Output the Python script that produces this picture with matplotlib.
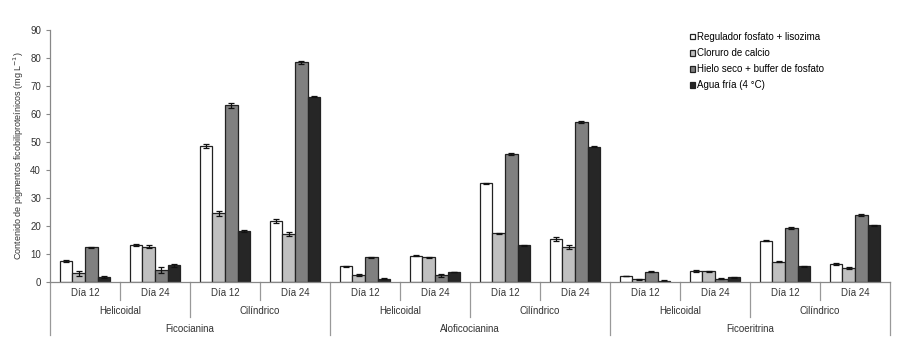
import matplotlib
matplotlib.use("Agg")
import matplotlib.pyplot as plt
import numpy as np
from matplotlib.patches import Patch

plt.rcParams['font.family'] = ['Liberation Sans', 'DejaVu Sans']

dias = ["Día 12", "Día 24"] * 6
formas = ["Helicoidal", "Cilíndrico"] * 3
pigmentos = ["Ficocianina", "Aloficocianina", "Ficoeritrina"]

series_names = ["Regulador fosfato + lisozima", "Cloruro de calcio",
                "Hielo seco + buffer de fosfato", "Agua fría (4 °C)"]

regulador = [7.6, 13.2, 48.5, 21.8, 5.6, 9.4, 35.2, 15.4, 2.2, 4.0, 14.8, 6.5]
regulador_err = [0.3, 0.4, 0.8, 0.8, 0.1, 0.2, 0.2, 0.6, 0.1, 0.3, 0.3, 0.3]
cloruro = [3.1, 12.6, 24.5, 17.0, 2.4, 8.8, 17.4, 12.4, 0.9, 3.8, 7.3, 4.9]
cloruro_err = [0.8, 0.6, 0.9, 0.7, 0.3, 0.3, 0.2, 0.7, 0.1, 0.3, 0.3, 0.3]
hielo = [12.4, 4.3, 63.1, 78.5, 8.9, 2.4, 45.6, 57.2, 3.7, 1.1, 19.3, 23.9]
hielo_err = [0.2, 1.2, 0.8, 0.5, 0.2, 0.6, 0.3, 0.3, 0.1, 0.2, 0.3, 0.3]
agua = [1.8, 5.9, 18.2, 66.2, 1.2, 3.5, 13.1, 48.3, 0.5, 1.7, 5.6, 20.3]
agua_err = [0.4, 0.7, 0.2, 0.3, 0.1, 0.1, 0.1, 0.2, 0.1, 0.1, 0.2, 0.2]

values = [regulador, cloruro, hielo, agua]
errors = [regulador_err, cloruro_err, hielo_err, agua_err]
colors = ["#ffffff", "#c0c0c0", "#808080", "#262626"]

fig = plt.figure(figsize=(9.03, 3.53), dpi=100)
ax = fig.add_axes([50/903, 1-282/353, 840/903, 252/353])

x = np.arange(len(dias))
w = 0.182
for i, (vals, errs, c) in enumerate(zip(values, errors, colors)):
    ax.bar(x + (i - 1.5) * w, vals, w, color=c, edgecolor="#222222", linewidth=0.9,
           yerr=errs, error_kw=dict(ecolor="#111111", elinewidth=0.9, capsize=2.2, capthick=0.9),
           zorder=2)

ax.set_xlim(-0.5, len(dias) - 0.5)
ax.set_ylim(0, 90)
ax.set_yticks(np.arange(0, 91, 10))
ax.tick_params(axis='y', labelsize=7, labelcolor="#333333", color="#888888", length=3, width=0.8)
ax.set_xticks([])
for s in ["top", "right"]:
    ax.spines[s].set_visible(False)
for s in ["left", "bottom"]:
    ax.spines[s].set_color("#888888")
    ax.spines[s].set_linewidth(0.9)

ax.set_ylabel("Contenido de pigmentos ficobiliproteínicos (mg L$^{-1}$)", fontsize=6.5,
              color="#333333", labelpad=3)

tr = ax.get_xaxis_transform()
lc = "#999999"
y1, y2, y3 = -0.0437, -0.115, -0.187
e1, e2, e3 = -0.0714, -0.139, -0.210

for i, d in enumerate(dias):
    ax.text(i, y1, d, transform=tr, ha='center', va='center', fontsize=7, color="#333333")
for j, f in enumerate(formas):
    ax.text(2 * j + 0.5, y2, f, transform=tr, ha='center', va='center', fontsize=7, color="#333333")
for k, p in enumerate(pigmentos):
    ax.text(4 * k + 1.5, y3, p, transform=tr, ha='center', va='center', fontsize=7, color="#333333")

for b in range(len(dias) + 1):
    xb = b - 0.5
    if b % 4 == 0:
        end = e3
    elif b % 2 == 0:
        end = e2
    else:
        end = e1
    ax.plot([xb, xb], [0, end], transform=tr, color=lc, lw=0.9, clip_on=False)

handles = [Patch(facecolor=c, edgecolor="#222222", linewidth=0.9) for c in colors]
fig.legend(handles, series_names, loc='upper left', bbox_to_anchor=(690/903, 1-32/353),
           frameon=False, fontsize=7, handlelength=0.55, handleheight=0.55,
           handletextpad=0.15, labelspacing=0.62, borderpad=0, borderaxespad=0)

fig.savefig("out.png", dpi=100)
